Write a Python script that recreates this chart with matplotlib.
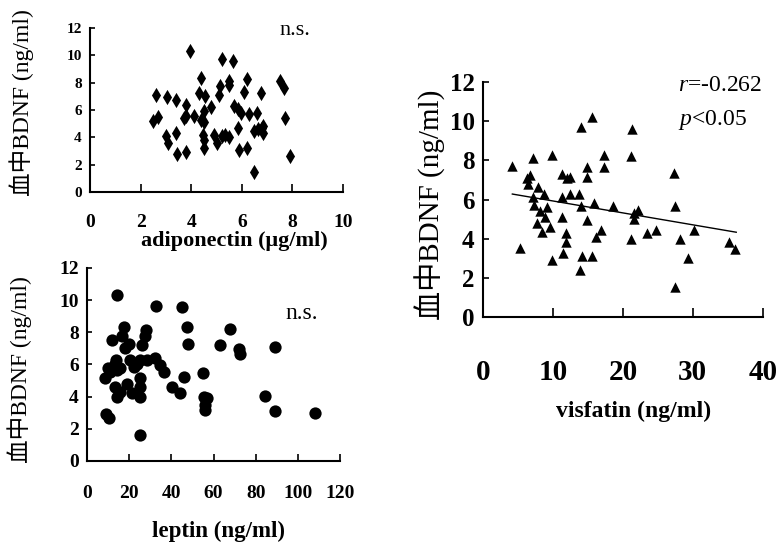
import matplotlib
matplotlib.use('Agg')
import matplotlib.pyplot as plt
import numpy as np

plt.rcParams['font.family'] = ['Liberation Serif', 'Noto Sans CJK JP']
plt.rcParams['mathtext.fontset'] = 'custom'
plt.rcParams['mathtext.it'] = 'Liberation Serif:italic'
plt.rcParams['mathtext.rm'] = 'Liberation Serif'

# adiponectin (ug/ml) vs serum BDNF (ng/ml)
adipo_x = [2.5, 2.6, 2.7, 3.05, 3.0, 3.1, 3.4, 3.4, 3.45, 3.8, 3.8, 3.7, 3.8, 3.95,
           4.1, 4.3, 4.4, 4.4, 4.45, 4.5, 4.5, 4.5, 4.5, 4.55, 4.8, 4.9, 5.0, 5.1,
           5.15, 5.2, 5.2, 5.35, 5.5, 5.5, 5.5, 5.65, 5.7, 5.85, 5.85, 5.95, 5.9,
           6.1, 6.2, 6.2, 6.3, 6.5, 6.5, 6.6, 6.65, 6.75, 6.8, 6.85, 6.85, 7.5,
           7.65, 7.7, 7.9]
adipo_y = [5.2, 7.1, 5.5, 6.95, 4.1, 3.55, 4.35, 6.7, 2.8, 2.9, 6.4, 5.45, 5.55, 10.3,
           5.55, 7.25, 8.35, 5.25, 4.15, 3.8, 3.25, 5.9, 5.1, 7.0, 6.2, 4.2, 3.6, 7.1,
           7.75, 9.7, 4.1, 4.2, 4.0, 8.1, 7.85, 9.55, 6.3, 4.7, 6.05, 5.8, 3.1,
           7.3, 3.2, 8.3, 5.7, 1.45, 4.5, 5.8, 4.6, 7.25, 4.7, 4.35, 4.85, 8.15,
           7.6, 5.45, 2.6]

# leptin (ng/ml) vs serum BDNF
leptin_x = [8.4, 9.2, 10.3, 10.0, 11.0, 12.0, 14.2, 13.4, 14.2, 13.9, 13.4, 14.2, 15.8,
            15.8, 16.6, 17.7, 18.2, 19.0, 19.7, 20.5, 21.3, 22.1, 23.7, 25.3, 25.3,
            25.3, 25.3, 25.3, 26.1, 28.0, 27.6, 28.4, 32.4, 32.9, 34.8, 36.6, 40.3,
            44.2, 45.0, 45.8, 47.4, 47.9, 54.8, 55.6, 56.1, 56.1, 56.9, 63.2, 67.9,
            71.9, 72.7, 84.5, 89.3, 89.3, 108.2]
leptin_y = [5.15, 2.95, 2.65, 5.75, 5.55, 7.55, 10.35, 6.05, 5.65, 6.3, 4.6, 4.0, 4.3,
            5.75, 7.75, 8.3, 7.0, 4.8, 7.3, 6.3, 4.2, 5.85, 6.05, 6.3, 4.6,
            4.0, 5.15, 1.6, 7.2, 8.15, 7.75, 6.3, 6.4, 9.65, 5.95, 5.55, 4.6,
            4.2, 9.55, 5.2, 8.3, 7.3, 5.45, 4.0, 3.45, 3.15, 3.9, 7.2, 8.2,
            6.95, 6.65, 4.05, 7.1, 3.1, 3.0]

# visfatin (ng/ml) vs serum BDNF
visf_x = [4.2, 5.3, 6.3, 6.5, 6.7, 7.2, 7.2, 7.3, 7.7, 7.9, 8.2, 8.4, 8.7, 8.8, 9.1,
          9.6, 9.9, 9.9, 11.3, 11.3, 11.3, 11.4, 11.8, 11.9, 12.0, 12.5, 12.5, 13.7,
          13.9, 14.0, 14.2, 14.0, 14.8, 14.9, 14.9, 15.6, 15.6, 15.9, 16.1, 16.9,
          17.3, 17.3, 18.6, 21.1, 21.2, 21.3, 21.6, 21.6, 22.1, 23.5, 24.7, 27.3,
          27.4, 27.4, 28.2, 29.3, 30.2, 35.2, 36.0]
visf_y = [7.7, 3.5, 7.1, 6.8, 7.25, 8.1, 6.15, 5.7, 4.8, 6.65, 5.4, 4.35, 6.3, 5.1, 5.6,
          4.6, 8.25, 2.9, 6.15, 7.3, 5.1, 3.25, 4.3, 3.85, 7.1, 7.15, 6.3, 6.3,
          2.4, 5.65, 3.1, 9.7, 7.65, 7.15, 4.95, 10.2, 3.1, 5.8, 4.1, 4.45,
          8.25, 7.65, 5.65, 8.2, 4.0, 9.6, 5.3, 5.0, 5.45, 4.3, 4.45, 7.35,
          5.65, 1.55, 4.0, 3.0, 4.45, 3.85, 3.45]
fit_x = [4.2, 36.2]
fit_y = [6.28, 4.33]

ylabel = '血中BDNF (ng/ml)'


def style(ax, xmax, xstep, ytick_fs, xtick_fs, xpad, ytick_len, xtick_len):
    ax.set_xlim(0, xmax)
    ax.set_ylim(0, 12)
    ax.set_xticks(np.arange(0, xmax + 1, xstep))
    ax.set_yticks(np.arange(0, 13, 2))
    for s in ['top', 'right']:
        ax.spines[s].set_visible(False)
    for s in ['left', 'bottom']:
        ax.spines[s].set_linewidth(1.5)
    ax.tick_params(axis='y', direction='in', length=ytick_len, width=1.2,
                   labelsize=ytick_fs, pad=6)
    ax.tick_params(axis='x', direction='in', length=xtick_len, width=1.2,
                   labelsize=xtick_fs, pad=xpad)
    for lab in ax.get_xticklabels() + ax.get_yticklabels():
        lab.set_fontweight('bold')


fig = plt.figure(figsize=(7.84, 5.48), dpi=100)

# top left: adiponectin
ax1 = fig.add_axes([0.1148, 0.6496, 0.3227, 0.2993])
ax1.scatter(adipo_x, adipo_y, marker='d', s=60, c='black', linewidths=0)
style(ax1, 10, 2, 11, 14, 16, 3.5, 6)
ax1.text(8.1, 11.8, 'n.s.', fontsize=16, ha='center', va='center')
fig.text(234 / 784, 1 - 241 / 548, 'adiponectin (\u03bcg/ml)', fontsize=16,
         fontweight='bold', ha='center', va='center')
fig.text(22 / 784, 1 - 103 / 548, ylabel, fontsize=17, rotation=90,
         ha='center', va='center')

# bottom left: leptin
ax2 = fig.add_axes([0.111, 0.1588, 0.3227, 0.3522])
ax2.scatter(leptin_x, leptin_y, marker='o', s=78, c='black', linewidths=0)
style(ax2, 120, 20, 14, 14, 17, 3.5, 5)
ax2.text(102, 9.2, 'n.s.', fontsize=17, ha='center', va='center')
fig.text(219 / 784, 1 - 531 / 548, 'leptin (ng/ml)', fontsize=16.5,
         fontweight='bold', ha='center', va='center')
fig.text(20 / 784, 1 - 370 / 548, ylabel, fontsize=17, rotation=90,
         ha='center', va='center')

# right: visfatin
ax3 = fig.add_axes([0.616, 0.4215, 0.357, 0.4288])
ax3.scatter(visf_x, visf_y, marker='^', s=56, c='black', linewidths=0)
ax3.plot(fit_x, fit_y, color='black', linewidth=1)
style(ax3, 40, 10, 18, 21, 30, 4.5, 6.5)
ax3.text(27.9, 11.8, r'$\mathit{r}$=-0.262', fontsize=17, ha='left', va='center')
ax3.text(27.9, 10.06, r'$\mathit{p}$<0.05', fontsize=17, ha='left', va='center')
fig.text(634 / 784, 1 - 411 / 548, 'visfatin (ng/ml)', fontsize=17,
         fontweight='bold', ha='center', va='center')
fig.text(430 / 784, 1 - 205 / 548, ylabel, fontsize=21, rotation=90,
         ha='center', va='center')

fig.savefig('out.png', dpi=100)
